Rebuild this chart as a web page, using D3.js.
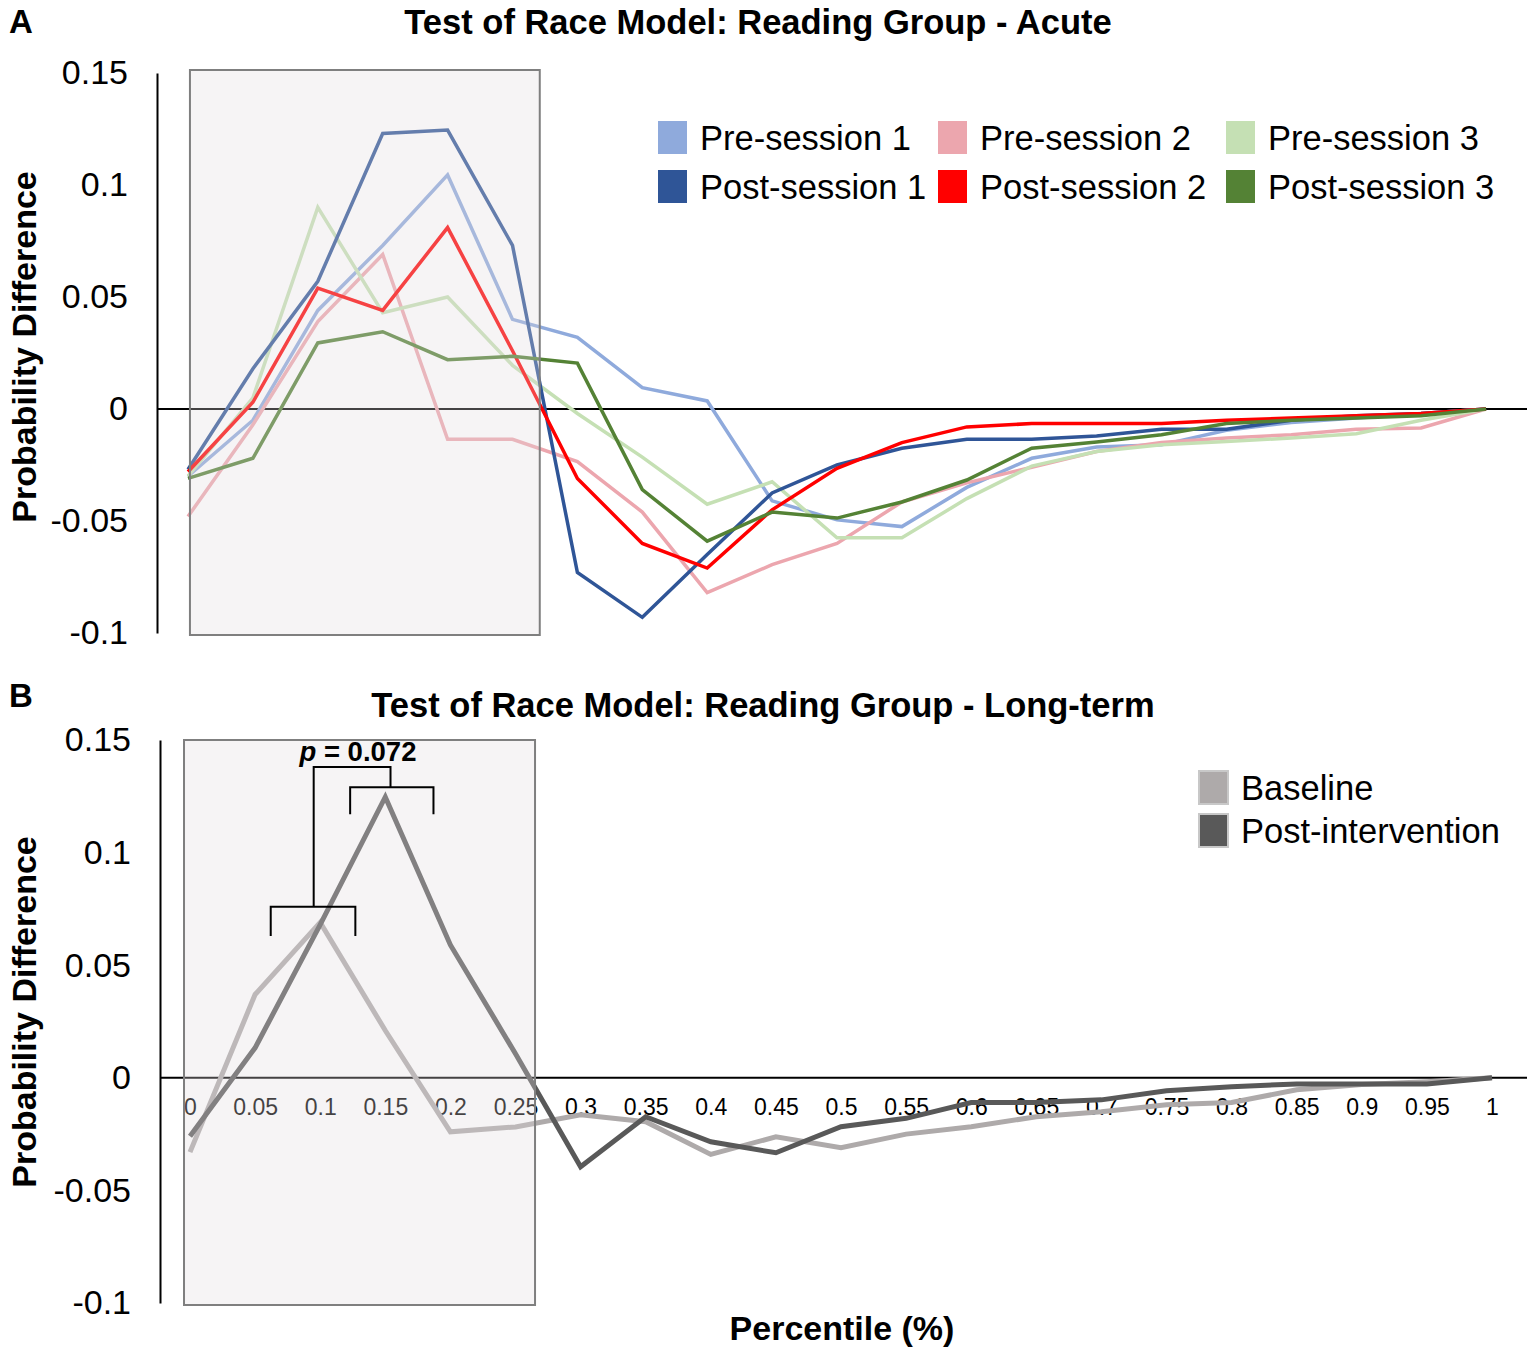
<!DOCTYPE html>
<html>
<head>
<meta charset="utf-8">
<script src="https://cdn.jsdelivr.net/npm/d3@7"></script>
<style>
  body { margin: 0; background: #fff; }
  text { font-family: "Liberation Sans", Arial, sans-serif; }
</style>
</head>
<body>
<div id="chart"></div>
<script>
// percentiles shared by both panels
const percentiles = d3.range(21).map(i => +(i * 0.05).toFixed(2));
const xTickLabels = ["0","0.05","0.1","0.15","0.2","0.25","0.3","0.35","0.4","0.45","0.5",
  "0.55","0.6","0.65","0.7","0.75","0.8","0.85","0.9","0.95","1"];
const yTicks = [-0.1, -0.05, 0, 0.05, 0.1, 0.15];
const yTickLabels = ["-0.1", "-0.05", "0", "0.05", "0.1", "0.15"];

// Panel A - acute
const pre1  = [-0.030,-0.005,0.044,0.073,0.1045,0.040,0.032,0.0095,0.0036,-0.041,-0.0495,-0.0525,-0.035,-0.022,-0.017,-0.016,-0.0095,-0.006,-0.004,-0.002,0];
const post1 = [-0.027,0.018,0.057,0.123,0.1245,0.073,-0.073,-0.093,-0.065,-0.0375,-0.025,-0.0175,-0.0135,-0.0135,-0.012,-0.009,-0.009,-0.005,-0.003,-0.002,0];
const pre2  = [-0.048,-0.007,0.039,0.069,-0.0135,-0.0135,-0.0235,-0.046,-0.082,-0.0695,-0.060,-0.0415,-0.033,-0.026,-0.019,-0.015,-0.013,-0.0115,-0.009,-0.0085,0];
const post2 = [-0.028,0.003,0.054,0.044,0.081,0.026,-0.031,-0.060,-0.071,-0.045,-0.0265,-0.015,-0.008,-0.0065,-0.0065,-0.0065,-0.005,-0.004,-0.003,-0.002,0];
const pre3  = [-0.030,0.005,0.090,0.043,0.050,0.0195,-0.002,-0.0215,-0.0425,-0.0325,-0.0575,-0.0575,-0.040,-0.0255,-0.019,-0.016,-0.0145,-0.013,-0.011,-0.005,0];
const post3 = [-0.031,-0.022,0.0295,0.0345,0.022,0.0235,0.0205,-0.036,-0.059,-0.046,-0.0487,-0.0415,-0.0317,-0.0175,-0.0147,-0.0115,-0.0065,-0.005,-0.004,-0.003,0];

// Panel B - long-term
const baseline = [-0.033,0.037,0.069,0.021,-0.024,-0.0218,-0.0164,-0.0195,-0.034,-0.0262,-0.031,-0.025,-0.0217,-0.0173,-0.0151,-0.012,-0.011,-0.0053,-0.003,-0.0018,0];
const postInt  = [-0.026,0.0133,0.068,0.1247,0.059,0.0107,-0.0395,-0.0173,-0.0284,-0.0333,-0.0217,-0.018,-0.011,-0.011,-0.0098,-0.0058,-0.004,-0.0027,-0.0027,-0.0027,0];

const seriesA = [
  {name: "Pre-session 1",  values: pre1,  color: "#8faadc"},
  {name: "Pre-session 2",  values: pre2,  color: "#eca6ae"},
  {name: "Pre-session 3",  values: pre3,  color: "#c5e0b4"},
  {name: "Post-session 1", values: post1, color: "#2f5597"},
  {name: "Post-session 2", values: post2, color: "#ff0000"},
  {name: "Post-session 3", values: post3, color: "#548235"}
];
const seriesB = [
  {name: "Baseline",          values: baseline, color: "#aeaaaa"},
  {name: "Post-intervention", values: postInt,  color: "#595959"}
];

const W = 1535, H = 1358;
const svg = d3.select("#chart").append("svg")
  .attr("width", W).attr("height", H);

function panel(cfg) {
  const x = d3.scaleLinear().domain([0, 1]).range(cfg.xRange);
  const y = d3.scaleLinear().domain([-0.1, 0.15]).range(cfg.yRange);
  const g = svg.append("g");

  // panel letter + title
  g.append("text").attr("x", 9).attr("y", cfg.letterY)
    .attr("font-size", 33).attr("font-weight", "bold").text(cfg.letter);
  g.append("text").attr("x", cfg.titleX).attr("y", cfg.titleY)
    .attr("text-anchor", "middle").attr("font-size", 34.5).attr("font-weight", "bold")
    .text(cfg.title);

  // y axis
  const yAxis = g.append("g")
    .attr("transform", `translate(${cfg.axisX},0)`)
    .call(d3.axisLeft(y).tickValues(yTicks).tickSize(0).tickPadding(29)
      .tickFormat((d, i) => yTickLabels[i]));
  yAxis.select(".domain").attr("stroke", "#000").attr("stroke-width", 2);
  yAxis.selectAll("text").attr("font-size", 34).attr("fill", "#000")
    .attr("font-family", "Liberation Sans, Arial, sans-serif");

  g.append("text")
    .attr("transform", `translate(36,${cfg.yTitleY}) rotate(-90)`)
    .attr("text-anchor", "middle").attr("font-size", 34).attr("font-weight", "bold")
    .text("Probability Difference");

  // zero line
  g.append("line")
    .attr("x1", cfg.axisX).attr("x2", 1527)
    .attr("y1", y(0)).attr("y2", y(0))
    .attr("stroke", "#000").attr("stroke-width", 2);

  // x tick labels (panel B only)
  if (cfg.xLabels) {
    const xAxis = g.append("g")
      .attr("transform", `translate(0,${y(0)})`)
      .call(d3.axisBottom(x).tickValues(percentiles).tickSize(0).tickPadding(21)
        .tickFormat((d, i) => xTickLabels[i]));
    xAxis.select(".domain").remove();
    xAxis.selectAll("text").attr("font-size", 23).attr("fill", "#000")
      .attr("font-family", "Liberation Sans, Arial, sans-serif");
  }

  // lines
  const line = d3.line().x((d, i) => x(percentiles[i])).y(d => y(d));
  g.selectAll(".series")
    .data(cfg.series)
    .join("path")
      .attr("fill", "none")
      .attr("stroke", d => d.color)
      .attr("stroke-width", cfg.lineWidth)
      .attr("stroke-linejoin", "miter")
      .attr("d", d => line(d.values));

  // shaded window on top of lines
  g.append("rect")
    .attr("x", x(cfg.box[0])).attr("width", x(cfg.box[1]) - x(cfg.box[0]))
    .attr("y", y(0.15) - cfg.boxPad[0])
    .attr("height", y(-0.1) - y(0.15) + cfg.boxPad[0] + cfg.boxPad[1])
    .attr("fill", "#e2dcdf").attr("fill-opacity", 0.3)
    .attr("stroke", "#7f7f7f").attr("stroke-width", 2);

  // legend
  const leg = g.append("g");
  cfg.legend.forEach(l => {
    leg.append("rect").attr("x", l.x).attr("y", l.y - 17)
      .attr("width", 29).attr("height", 33)
      .attr("fill", l.color)
      .attr("stroke", l.stroke || "none").attr("stroke-width", 2);
    leg.append("text").attr("x", l.x + 42).attr("y", l.y + 12)
      .attr("font-size", 34.5).text(l.name);
  });

  return {x, y, g};
}

// Panel A
const A = panel({
  letter: "A", letterY: 33, title: "Test of Race Model: Reading Group - Acute",
  titleX: 758, titleY: 34,
  xRange: [188, 1486], yRange: [633, 73], axisX: 157, yTitleY: 347,
  series: seriesA, lineWidth: 3.5, box: [0.0015, 0.271], boxPad: [3, 2],
  legend: [
    {name: "Pre-session 1",  color: "#8faadc", x: 658,  y: 138},
    {name: "Pre-session 2",  color: "#eca6ae", x: 938,  y: 138},
    {name: "Pre-session 3",  color: "#c5e0b4", x: 1226, y: 138},
    {name: "Post-session 1", color: "#2f5597", x: 658,  y: 187},
    {name: "Post-session 2", color: "#ff0000", x: 938,  y: 187},
    {name: "Post-session 3", color: "#548235", x: 1226, y: 187}
  ]
});

// Panel B
const B = panel({
  letter: "B", letterY: 707, title: "Test of Race Model: Reading Group - Long-term",
  titleX: 763, titleY: 717,
  xRange: [190, 1492], yRange: [1303, 740], axisX: 160, yTitleY: 1012,
  series: seriesB, lineWidth: 5, xLabels: true, box: [-0.0046, 0.265], boxPad: [0, 2],
  legend: [
    {name: "Baseline",          color: "#aeaaaa", x: 1199, y: 788, stroke: "#c8c8c8"},
    {name: "Post-intervention", color: "#595959", x: 1199, y: 831, stroke: "#c8c8c8"}
  ]
});

// significance brackets (panel B)
const brackets = [
  {x0: 0.062, x1: 0.127, y: 0.076, leg: 0.063},
  {x0: 0.123, x1: 0.187, y: 0.129, leg: 0.117}
];
const stems = [0.095, 0.154];
const stemTop = 0.138;
const bg = B.g.append("g").attr("fill", "none").attr("stroke", "#000").attr("stroke-width", 2);
brackets.forEach(b => {
  bg.append("path").attr("d",
    `M${B.x(b.x0)},${B.y(b.leg)}V${B.y(b.y)}H${B.x(b.x1)}V${B.y(b.leg)}`);
});
bg.append("path").attr("d",
  `M${B.x(stems[0])},${B.y(brackets[0].y)}V${B.y(stemTop)}H${B.x(stems[1])}V${B.y(brackets[1].y)}`);

const pt = B.g.append("text")
  .attr("x", B.x(0.129)).attr("y", B.y(0.1405))
  .attr("text-anchor", "middle").attr("font-size", 27.5).attr("font-weight", "bold");
pt.append("tspan").attr("font-style", "italic").text("p");
pt.append("tspan").text(" = 0.072");

// x axis title
svg.append("text").attr("x", 842).attr("y", 1340)
  .attr("text-anchor", "middle").attr("font-size", 34).attr("font-weight", "bold")
  .text("Percentile (%)");
</script>
</body>
</html>
